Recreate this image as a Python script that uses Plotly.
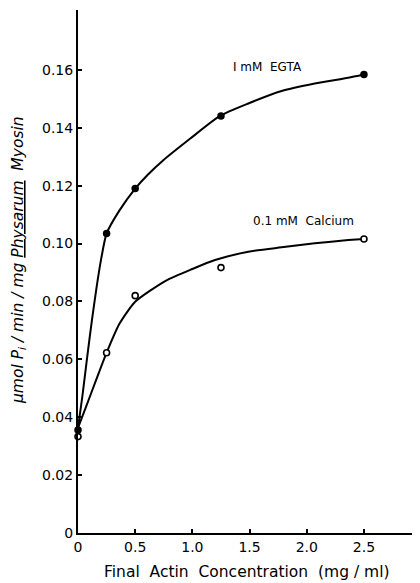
import plotly.graph_objects as go

# Measured data points
egta_x = [0, 0.25, 0.5, 1.25, 2.5]
egta_y = [0.0356, 0.1035, 0.119, 0.1441, 0.1584]
ca_x = [0, 0.25, 0.5, 1.25, 2.5]
ca_y = [0.0333, 0.0623, 0.082, 0.0917, 0.1016]

# Fitted curves
egta_curve_x = [0, 0.039, 0.08, 0.121, 0.162, 0.203, 0.25, 0.36, 0.5, 0.61, 0.746, 0.979,
                1.241, 1.489, 1.78, 2.07, 2.363, 2.5]
egta_curve_y = [0.0363, 0.0475, 0.0607, 0.0733, 0.0848, 0.0948, 0.1035, 0.1113, 0.119, 0.1238,
                0.1288, 0.1362, 0.1441, 0.1484, 0.1527, 0.1553, 0.1573, 0.1584]
ca_curve_x = [0, 0.07, 0.157, 0.25, 0.361, 0.5, 0.77, 1.0, 1.198, 1.489, 1.78, 2.07, 2.363, 2.5]
ca_curve_y = [0.0363, 0.0436, 0.0527, 0.0623, 0.0722, 0.0799, 0.0872, 0.0912, 0.0943, 0.0972,
              0.0987, 0.1001, 0.1012, 0.1016]

x_ticks = [0, 0.5, 1.0, 1.5, 2.0, 2.5]
x_ticklabels = ["0", "0.5", "1.0", "1.5", "2.0", "2.5"]
y_ticks = [0, 0.02, 0.04, 0.06, 0.08, 0.10, 0.12, 0.14, 0.16]
y_ticklabels = ["0", "0.02", "0.04", "0.06", "0.08", "0.10", "0.12", "0.14", "0.16"]

FONT = "DejaVu Sans"

fig = go.Figure()
fig.add_trace(go.Scatter(x=egta_curve_x, y=egta_curve_y, mode="lines",
                         line=dict(color="black", width=2, shape="spline", smoothing=0.6),
                         cliponaxis=False, hoverinfo="skip"))
fig.add_trace(go.Scatter(x=ca_curve_x, y=ca_curve_y, mode="lines",
                         line=dict(color="black", width=2, shape="spline", smoothing=0.6),
                         cliponaxis=False, hoverinfo="skip"))
fig.add_trace(go.Scatter(x=egta_x, y=egta_y, mode="markers",
                         marker=dict(color="black", size=7.5, symbol="circle"),
                         cliponaxis=False))
fig.add_trace(go.Scatter(x=ca_x, y=ca_y, mode="markers",
                         marker=dict(color="white", size=6, symbol="circle",
                                     line=dict(color="black", width=1.6)),
                         cliponaxis=False))

fig.update_layout(
    width=412, height=575,
    margin=dict(l=70, r=0, t=2, b=50),
    paper_bgcolor="white", plot_bgcolor="white",
    showlegend=False,
    font=dict(family=FONT, color="black"),
    xaxis=dict(range=[0, 2.99], tickvals=x_ticks, ticktext=x_ticklabels,
               ticks="inside", ticklen=4, tickwidth=1.5, tickcolor="black",
               showline=True, linecolor="black", linewidth=2,
               showgrid=False, zeroline=False,
               tickfont=dict(family=FONT, size=14, color="black")),
    yaxis=dict(range=[0, 0.1807], tickvals=y_ticks, ticktext=y_ticklabels,
               ticks="inside", ticklen=4, tickwidth=1.5, tickcolor="black",
               showline=True, linecolor="black", linewidth=2,
               showgrid=False, zeroline=False,
               tickfont=dict(family=FONT, size=14, color="black")),
    annotations=[
        dict(text="I mM  EGTA", x=1.66, y=0.161, xref="x", yref="y",
             xanchor="center", yanchor="middle",
             showarrow=False, font=dict(family=FONT, size=12, color="black")),
        dict(text="0.1 mM  Calcium", x=1.975, y=0.1078, xref="x", yref="y",
             xanchor="center", yanchor="middle",
             showarrow=False, font=dict(family=FONT, size=12, color="black")),
        dict(text="Final  Actin  Concentration  (mg / ml)", x=0.494, y=-0.0746,
             xref="paper", yref="paper", xanchor="center", yanchor="middle",
             showarrow=False, font=dict(family=FONT, size=15.5, color="black")),
        dict(text="<i>µmol P<sub>i</sub> / min / mg <u>Physarum</u>  Myosin</i>",
             x=-0.1725, y=0.522, xref="paper", yref="paper", textangle=-90,
             xanchor="center", yanchor="middle",
             showarrow=False, font=dict(family=FONT, size=15.5, color="black")),
    ],
)

fig.write_html("out.html")
